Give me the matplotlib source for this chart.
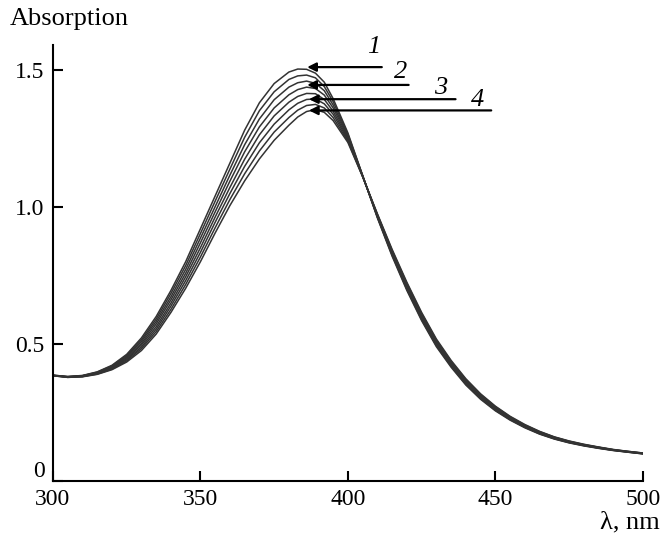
# -*- coding: utf-8 -*-
"""Absorption spectra, family of curves with arrows 1-4."""
import matplotlib.pyplot as plt
from matplotlib.transforms import ScaledTranslation

plt.rcParams["font.family"] = ["Liberation Serif", "DejaVu Serif"]

# wavelengths (nm)
wl = [300, 305, 310, 315, 320, 325, 330, 335, 340, 345, 350, 355, 360, 365,
      370, 375, 380, 383, 386, 389, 392, 395, 400, 405, 410, 415, 420, 425,
      430, 435, 440, 445, 450, 455, 460, 465, 470, 475, 480, 485, 490, 495, 500]

# absorption curves (highest peak first)
c1 = [0.386, 0.381, 0.385, 0.398, 0.422, 0.462, 0.522, 0.600, 0.695, 0.800,
      0.920, 1.040, 1.160, 1.280, 1.380, 1.450, 1.492, 1.503, 1.502, 1.488,
      1.455, 1.395, 1.270, 1.115, 0.960, 0.820, 0.695, 0.585, 0.490, 0.415,
      0.350, 0.298, 0.256, 0.222, 0.194, 0.171, 0.153, 0.139, 0.128, 0.119,
      0.111, 0.105, 0.099]
c2 = [0.386, 0.381, 0.384, 0.397, 0.420, 0.458, 0.515, 0.591, 0.684, 0.786,
      0.903, 1.021, 1.138, 1.254, 1.351, 1.420, 1.465, 1.478, 1.481, 1.471,
      1.439, 1.384, 1.265, 1.114, 0.962, 0.824, 0.699, 0.589, 0.494, 0.419,
      0.353, 0.301, 0.258, 0.224, 0.196, 0.172, 0.154, 0.140, 0.129, 0.120,
      0.112, 0.105, 0.099]
c3 = [0.385, 0.380, 0.384, 0.395, 0.417, 0.454, 0.509, 0.582, 0.672, 0.772,
      0.886, 1.001, 1.116, 1.227, 1.321, 1.391, 1.437, 1.453, 1.459, 1.451,
      1.424, 1.372, 1.260, 1.114, 0.964, 0.827, 0.704, 0.594, 0.498, 0.422,
      0.357, 0.304, 0.261, 0.226, 0.197, 0.174, 0.155, 0.141, 0.130, 0.120,
      0.112, 0.106, 0.100]
c4 = [0.385, 0.380, 0.383, 0.394, 0.415, 0.450, 0.502, 0.573, 0.661, 0.758,
      0.869, 0.982, 1.094, 1.201, 1.292, 1.361, 1.409, 1.428, 1.437, 1.432,
      1.408, 1.361, 1.255, 1.113, 0.966, 0.831, 0.708, 0.598, 0.502, 0.426,
      0.360, 0.307, 0.263, 0.228, 0.199, 0.175, 0.156, 0.142, 0.130, 0.121,
      0.113, 0.106, 0.100]
c5 = [0.385, 0.379, 0.382, 0.393, 0.413, 0.446, 0.496, 0.563, 0.649, 0.745,
      0.851, 0.963, 1.071, 1.174, 1.263, 1.332, 1.382, 1.403, 1.414, 1.413,
      1.392, 1.349, 1.250, 1.112, 0.969, 0.834, 0.712, 0.602, 0.506, 0.429,
      0.363, 0.309, 0.266, 0.230, 0.201, 0.177, 0.158, 0.143, 0.131, 0.122,
      0.113, 0.107, 0.101]
c6 = [0.385, 0.379, 0.381, 0.392, 0.411, 0.442, 0.489, 0.554, 0.638, 0.731,
      0.834, 0.944, 1.049, 1.148, 1.234, 1.302, 1.354, 1.378, 1.392, 1.394,
      1.376, 1.338, 1.245, 1.111, 0.971, 0.838, 0.716, 0.606, 0.510, 0.433,
      0.366, 0.312, 0.268, 0.232, 0.203, 0.178, 0.159, 0.144, 0.132, 0.123,
      0.114, 0.107, 0.101]
c7 = [0.384, 0.378, 0.381, 0.390, 0.408, 0.438, 0.483, 0.545, 0.626, 0.717,
      0.817, 0.924, 1.027, 1.121, 1.204, 1.273, 1.326, 1.353, 1.370, 1.374,
      1.361, 1.326, 1.240, 1.111, 0.973, 0.841, 0.721, 0.611, 0.514, 0.436,
      0.370, 0.315, 0.271, 0.234, 0.204, 0.180, 0.160, 0.145, 0.133, 0.123,
      0.114, 0.108, 0.102]
c8 = [0.384, 0.378, 0.380, 0.389, 0.406, 0.434, 0.476, 0.536, 0.615, 0.703,
      0.800, 0.905, 1.005, 1.095, 1.175, 1.243, 1.298, 1.328, 1.348, 1.355,
      1.345, 1.315, 1.235, 1.110, 0.975, 0.845, 0.725, 0.615, 0.518, 0.440,
      0.373, 0.318, 0.273, 0.236, 0.206, 0.181, 0.161, 0.146, 0.134, 0.124,
      0.115, 0.108, 0.102]
curves = [c1, c2, c3, c4, c5, c6, c7, c8]

# curve labels: arrow tip (nm, A), arrow tail x, label position
labels = ["1", "2", "3", "4"]
tip_x = [386.2, 386.2, 386.8, 386.8]
tip_y = [1.510, 1.445, 1.393, 1.352]
tail_x = [411.5, 420.6, 436.5, 448.6]
lab_x = [408.8, 417.9, 431.4, 443.9]
lab_y = [1.585, 1.493, 1.434, 1.390]

fig = plt.figure(figsize=(6.62, 5.38), dpi=100)
ax = fig.add_axes([0.080, 0.106, 0.891, 0.810])

for c in curves:
    ax.plot(wl, c, color="0.2", lw=1.1)

for i in range(len(labels)):
    ax.annotate("", xy=(tip_x[i], tip_y[i]), xytext=(tail_x[i], tip_y[i]),
                arrowprops=dict(arrowstyle="-|>", color="black", lw=1.6,
                                mutation_scale=13, shrinkA=0, shrinkB=0))
    ax.text(lab_x[i], lab_y[i], labels[i], fontsize=19, style="italic",
            ha="center", va="center")

ax.set_xlim(300, 500)
ax.set_ylim(0, 1.59)
ax.set_xticks([300, 350, 400, 450, 500])
ax.set_yticks([0, 0.5, 1.0, 1.5])
ax.set_yticklabels(["0", "0.5", "1.0", "1.5"])
ax.spines["top"].set_visible(False)
ax.spines["right"].set_visible(False)
ax.spines["left"].set_linewidth(1.5)
ax.spines["bottom"].set_linewidth(1.5)
ax.tick_params(direction="in", length=7, width=1.5, labelsize=17, pad=6)

# the "0" of the y axis sits above the x axis line
zero = ax.get_yticklabels()[0]
zero.set_transform(zero.get_transform()
                   + ScaledTranslation(0, 0.12, fig.dpi_scale_trans))

fig.text(0.015, 0.965, "Absorption", fontsize=19, ha="left", va="center")
fig.text(0.997, 0.028, "λ, nm", fontsize=19, ha="right", va="center")

plt.savefig("out.png", dpi=100)
